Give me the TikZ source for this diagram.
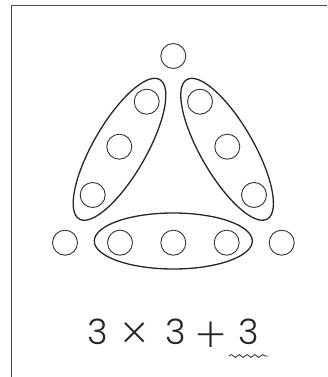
\documentclass[tikz,border=0pt]{standalone}
\usepackage{fontspec}
\setmainfont{Liberation Sans}
\newfontfamily\formfont{Poppins Light}
\newfontfamily\opfont{Poppins ExtraLight}
\usetikzlibrary{decorations.pathmorphing}
\begin{document}
\begin{tikzpicture}[x=1pt,y=-1pt,
  dot/.style={circle,draw=black!80,line width=0.9pt,minimum size=25pt,inner sep=0pt},
  ring/.style={draw=black!85,line width=1.3pt},
  sym/.style={inner sep=0pt,anchor=base,font=\formfont\fontsize{35pt}{40pt}\selectfont,text=black!85},
  opsym/.style={inner sep=0pt,anchor=center,font=\opfont\fontsize{50pt}{60pt}\selectfont,text=black!85}]
\useasboundingbox (0,0) rectangle (327,377);
\draw[black!70,line width=1pt] (11,377) -- (11,6) -- (327,6);
% dots
\node[dot] (t) at (173.3,56) {};
\node[dot] (l1) at (146.7,101.7) {};
\node[dot] (l2) at (119.3,146.7) {};
\node[dot] (l3) at (92.7,195) {};
\node[dot] (r1) at (200,101.7) {};
\node[dot] (r2) at (227.3,146.7) {};
\node[dot] (r3) at (254,195) {};
\node[dot] (b0) at (65,242.7) {};
\node[dot] (b1) at (120,242.7) {};
\node[dot] (b2) at (173.3,242.7) {};
\node[dot] (b3) at (226.7,242.7) {};
\node[dot] (b4) at (281.7,242.7) {};
% groups
\draw[ring,rotate around={60:(119.5,149.3)}] (119.5,149.3) ellipse [x radius=80.5pt, y radius=26.5pt];
\draw[ring,rotate around={-60:(227.1,149.3)}] (227.1,149.3) ellipse [x radius=80.5pt, y radius=26.5pt];
\draw[ring] (173.3,241) ellipse [x radius=79pt, y radius=28pt];
% formula
\node[sym] (n1) at (98,344.5) {3};
\node[opsym] (op1) at (134.7,337) {×};
\node[sym] (n2) at (175.5,344.5) {3};
\node[opsym] (op2) at (211.5,337.5) {+};
\node[sym] (n3) at (249,344.5) {3};
\coordinate (w1) at (229,356);
\coordinate (w2) at (268,356);
\draw[black!85,line width=0.8pt,decorate,decoration={snake,segment length=7.8pt,amplitude=1.4pt}] (w1) -- (w2);
\end{tikzpicture}
\end{document}
